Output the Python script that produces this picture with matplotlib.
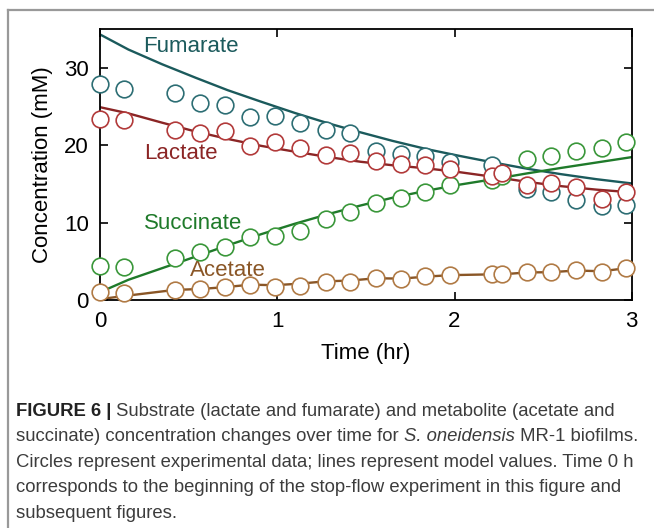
import matplotlib
matplotlib.use("Agg")
import matplotlib.pyplot as plt
from matplotlib.lines import Line2D
import numpy as np

plt.rcParams['font.family'] = ['Liberation Sans', 'DejaVu Sans']

# measured points (circles)
t_obs = [0.0, 0.135, 0.42, 0.566, 0.707, 0.848, 0.986, 1.127, 1.273, 1.411, 1.558,
         1.699, 1.836, 1.975, 2.21, 2.266, 2.41, 2.545, 2.686, 2.83, 2.97]
fum_obs = [27.85, 27.2, 26.7, 25.5, 25.15, 23.6, 23.7, 22.8, 22.0, 21.55, 19.25,
           18.85, 18.6, 17.8, 17.4, np.nan, 14.35, 13.95, 12.9, 12.15, 12.2]
lac_obs = [23.35, 23.2, 22.0, 21.55, 21.85, 19.85, 20.35, 19.6, 18.75, 18.93, 18.0,
           17.57, 17.48, 16.95, 16.07, 16.35, 14.85, 15.1, 14.65, 13.05, 13.92]
suc_obs = [4.4, 4.3, 5.4, 6.15, 6.9, 8.15, 8.2, 8.95, 10.45, 11.3, 12.5,
           13.2, 14.0, 14.8, 15.5, 16.0, 18.25, 18.6, 19.3, 19.6, 20.45]
ace_obs = [1.05, 0.85, 1.29, 1.38, 1.65, 1.97, 1.71, 1.8, 2.35, 2.35, 2.85,
           2.7, 3.05, 3.2, 3.34, 3.34, 3.6, 3.62, 3.85, 3.65, 4.15]

# model curves
t_mod = [0.0, 0.16, 0.35, 0.54, 0.72, 0.91, 1.1, 1.29, 1.47, 1.65, 1.84,
         2.03, 2.22, 2.41, 2.6, 2.8, 3.0]
fum_mod = [34.3, 32.35, 30.45, 28.7, 27.1, 25.6, 24.15, 22.8, 21.65, 20.55, 19.5,
           18.6, 17.75, 16.95, 16.25, 15.6, 15.05]
lac_mod = [24.9, 24.1, 22.9, 21.75, 20.8, 19.9, 19.15, 18.45, 17.85, 17.4, 17.0,
           16.5, 15.9, 15.25, 14.7, 14.25, 13.9]
suc_mod = [1.0, 2.6, 4.1, 5.6, 7.05, 8.5, 9.85, 11.1, 12.2, 13.2, 14.1,
           14.9, 15.6, 16.35, 17.05, 17.75, 18.45]
# acetate model is given at the sampling times
ace_mod = [0.1, 0.5, 1.29, 1.41, 1.65, 1.97, 1.9, 2.1, 2.4, 2.5, 2.8,
           2.75, 3.0, 3.2, 3.3, 3.3, 3.55, 3.58, 3.8, 3.7, 4.1]

names = ["Fumarate", "Lactate", "Succinate", "Acetate"]
line_colors = ["#1b5a5c", "#8b2525", "#1f7a2a", "#8a5626"]
circ_colors = ["#2d6e74", "#b23a3a", "#3a973a", "#b07a45"]

fig = plt.figure(figsize=(6.54, 5.28), dpi=100)
ax = fig.add_axes([0.153, 0.432, 0.813, 0.513])

# model lines
ax.plot(t_mod, fum_mod, color=line_colors[0], lw=1.7, zorder=2)
ax.plot(t_mod, lac_mod, color=line_colors[1], lw=1.7, zorder=2)
ax.plot(t_mod, suc_mod, color=line_colors[2], lw=1.7, zorder=2)
ax.plot(t_obs, ace_mod, color=line_colors[3], lw=1.7, zorder=2)

# data circles
mk = dict(marker='o', ls='none', ms=12, mfc='white', mew=1.2, clip_on=False)
ax.plot(t_obs, fum_obs, mec=circ_colors[0], zorder=3, **mk)
ax.plot(t_obs, suc_obs, mec=circ_colors[2], zorder=4, **mk)
ax.plot(t_obs, ace_obs, mec=circ_colors[3], zorder=4, **mk)
ax.plot(t_obs, lac_obs, mec=circ_colors[1], zorder=5, **mk)

# curve names
ax.text(0.245, 32.8, names[0], color=line_colors[0], fontsize=16, va='center')
ax.text(0.25, 18.9, names[1], color=line_colors[1], fontsize=16, va='center')
ax.text(0.25, 9.9, names[2], color=line_colors[2], fontsize=16, va='center')
ax.text(0.51, 3.86, names[3], color=line_colors[3], fontsize=16, va='center')

ax.set_xlim(0, 3)
ax.set_ylim(0, 35)
ax.set_xticks([0, 1, 2, 3])
ax.set_yticks([0, 10, 20, 30])
ax.tick_params(direction='in', top=True, right=True, length=6, width=1.2,
               labelsize=16, pad=8)
for sp in ax.spines.values():
    sp.set_linewidth(1.3)
ax.set_xlabel("Time (hr)", fontsize=16, labelpad=8)
ax.set_ylabel("Concentration (mM)", fontsize=16, labelpad=8)

# frame around the figure panel
fig.add_artist(Line2D([8 / 654, 8 / 654], [0, 1 - 10 / 528], color='#999999', lw=1.6))
fig.add_artist(Line2D([8 / 654, 1], [1 - 10 / 528, 1 - 10 / 528], color='#999999', lw=1.6))

# caption, one row at a time, styled pieces chained left to right
cap_size = 13.3
cap_color = '#3c3c3c'
x0 = 16 / 654
base = [415.7, 441.2, 466.7, 492.2, 517.7]

lines = [
    [("FIGURE 6 |", 'b'), (" Substrate (lactate and fumarate) and metabolite (acetate and", 'n')],
    [("succinate) concentration changes over time for ", 'n'), ("S. oneidensis", 'i'),
     (" MR-1 biofilms.", 'n')],
    [("Circles represent experimental data; lines represent model values. Time 0 h", 'n')],
    [("corresponds to the beginning of the stop-flow experiment in this figure and", 'n')],
    [("subsequent figures.", 'n')],
]

for pieces, yb in zip(lines, base):
    prev = None
    for txt, style in pieces:
        kw = dict(fontsize=cap_size, color=cap_color)
        if style == 'b':
            kw.update(fontweight='bold', color='#222222')
        elif style == 'i':
            kw.update(fontstyle='italic')
        if prev is None:
            prev = fig.text(x0, 1 - yb / 528, txt, va='baseline', **kw)
        else:
            prev = fig.add_artist(plt.Annotation(txt, xy=(1, 0), xycoords=prev,
                                                 va='bottom', **kw))

fig.savefig("out.png", dpi=100)
